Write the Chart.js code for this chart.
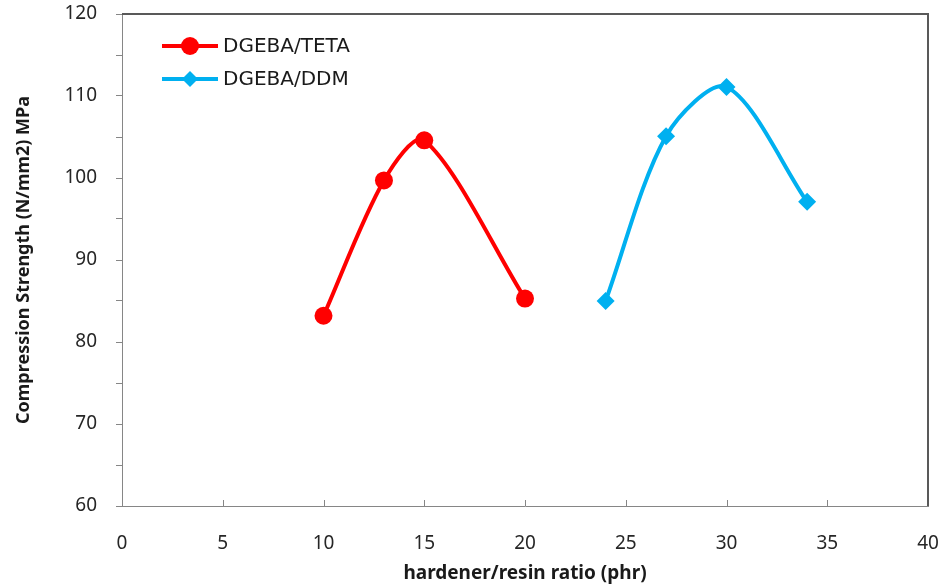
<!DOCTYPE html>
<html lang="en">
  <head>
    <meta charset="UTF-8" />
    <title>Compression Strength vs hardener/resin ratio</title>
    <script src="https://cdn.jsdelivr.net/npm/chart.js"></script>
    <style>
      html, body { margin: 0; padding: 0; background: #fff; }
      #wrap { width: 946px; height: 586px; }
    </style>
  </head>
  <body>
    <div id="wrap"><canvas id="strengthChart"></canvas></div>

    <script>
// hardener/resin ratio (phr)
const tetaRatio = [10, 13, 15, 20];
const tetaStrength = [83.2, 99.7, 104.6, 85.3];

const ddmRatio = [24, 27, 30, 34];
const ddmStrength = [85.0, 105.1, 111.1, 97.1];

const xTicks = [0, 5, 10, 15, 20, 25, 30, 35, 40];
const yTicks = [60, 70, 80, 90, 100, 110, 120];

const seriesNames = ['DGEBA/TETA', 'DGEBA/DDM'];

const RED = '#ff0000';
const BLUE = '#00b0f0';

// border on top/right, inward ticks on x axis, legend inside plot
const framePlugin = {
  id: 'frame',
  afterDraw(chart) {
    const ctx = chart.ctx;
    const a = chart.chartArea;
    const xs = chart.scales.x;
    ctx.save();
    ctx.strokeStyle = '#868686';
    ctx.lineWidth = 1;
    ctx.beginPath();
    xTicks.forEach(v => {
      const px = Math.round(xs.getPixelForValue(v)) + 0.5;
      ctx.moveTo(px, a.bottom);
      ctx.lineTo(px, a.bottom - 6);
    });
    ctx.stroke();

    ctx.strokeStyle = '#595959';
    ctx.lineWidth = 2;
    ctx.beginPath();
    ctx.moveTo(a.left, a.top);
    ctx.lineTo(a.right, a.top);
    ctx.lineTo(a.right, a.bottom);
    ctx.stroke();

    // legend
    const items = [
      { color: RED, style: 'circle', r: 9 },
      { color: BLUE, style: 'rectRot', r: 8 }
    ];
    ctx.font = '20px "DejaVu Sans"';
    ctx.textBaseline = 'middle';
    items.forEach((it, i) => {
      const y = a.top + 32 + i * 33;
      const x0 = a.left + 40;
      ctx.strokeStyle = it.color;
      ctx.lineWidth = 4;
      ctx.beginPath();
      ctx.moveTo(x0, y);
      ctx.lineTo(x0 + 56, y);
      ctx.stroke();
      ctx.fillStyle = it.color;
      Chart.helpers.drawPoint(ctx, { pointStyle: it.style, radius: it.r, borderWidth: 0 }, x0 + 28, y);
      ctx.fillStyle = '#1a1a1a';
      ctx.fillText(seriesNames[i], x0 + 61, y + 1);
    });
    ctx.restore();
  }
};

const ctx = document.getElementById('strengthChart');
new Chart(ctx, {
  type: 'line',
  data: {
    datasets: [
      {
        label: seriesNames[0],
        data: tetaRatio.map((x, i) => ({ x: x, y: tetaStrength[i] })),
        borderColor: RED,
        backgroundColor: RED,
        borderWidth: 4,
        pointStyle: 'circle',
        pointRadius: 9,
        pointBorderWidth: 0,
        tension: 0.3
      },
      {
        label: seriesNames[1],
        data: ddmRatio.map((x, i) => ({ x: x, y: ddmStrength[i] })),
        borderColor: BLUE,
        backgroundColor: BLUE,
        borderWidth: 4,
        pointStyle: 'rectRot',
        pointRadius: 9,
        pointBorderWidth: 0,
        tension: 0.3
      }
    ]
  },
  options: {
    responsive: true,
    maintainAspectRatio: false,
    animation: false,
    layout: { padding: { top: 14, right: 18, left: 0, bottom: 0 } },
    plugins: {
      legend: { display: false },
      tooltip: { enabled: false }
    },
    scales: {
      x: {
        type: 'linear',
        min: xTicks[0],
        max: xTicks[xTicks.length - 1],
        afterFit(scale) {
          scale.height = 80;
          scale.paddingLeft = 0;
          scale.paddingRight = 0;
        },
        afterBuildTicks(scale) { scale.ticks = xTicks.map(v => ({ value: v })); },
        border: { color: '#868686', width: 1 },
        grid: { display: true, drawOnChartArea: false, drawTicks: false },
        ticks: {
          padding: 26,
          color: '#262626',
          font: { family: '"Noto Sans"', size: 19 }
        },
        title: {
          display: true,
          text: 'hardener/resin ratio (phr)',
          color: '#1a1a1a',
          padding: { top: 0, bottom: 1 },
          font: { family: '"Noto Sans"', size: 19, weight: 'bold' }
        }
      },
      y: {
        min: yTicks[0],
        max: yTicks[yTicks.length - 1],
        afterFit(scale) {
          scale.width = 122;
          scale.paddingTop = 0;
          scale.paddingBottom = 0;
        },
        border: { color: '#868686', width: 1 },
        grid: { drawOnChartArea: false, drawTicks: true, tickLength: 6, color: '#868686' },
        ticks: {
          stepSize: 5,
          padding: 19,
          color: '#262626',
          font: { family: '"Noto Sans"', size: 19 },
          callback: v => (yTicks.includes(v) ? v : '')
        },
        title: {
          display: true,
          text: 'Compression Strength (N/mm2) MPa',
          color: '#1a1a1a',
          padding: { top: 13, bottom: 0 },
          font: { family: '"Noto Sans"', size: 18, weight: 'bold' }
        }
      }
    }
  },
  plugins: [framePlugin]
});
    </script>
  </body>
</html>
